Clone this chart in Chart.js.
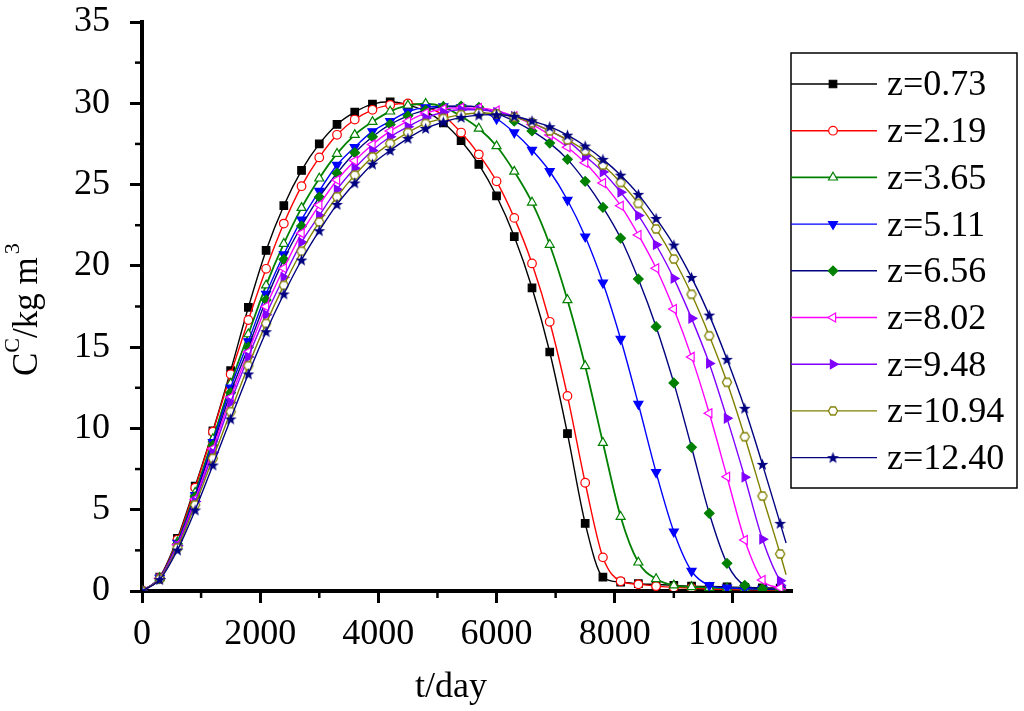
<!DOCTYPE html>
<html><head><meta charset="utf-8">
<script src="https://cdn.jsdelivr.net/npm/chart.js@4.4.0/dist/chart.umd.min.js"></script>
<style>html,body{margin:0;padding:0;background:#fff;}#wrap{width:1024px;height:711px;}</style>
</head><body><div id="wrap"><canvas id="c" width="1024" height="711"></canvas></div>
<script>
const days = [0,300,600,900,1200,1500,1800,2100,2400,2700,3000,3300,3600,3900,4200,4500,4800,5100,5400,5700,6000,6300,6600,6900,7200,7500,7800,8100,8400,8700,9000,9300,9600,9900,10200,10500,10800,10900];
const seriesLabels = ['z=0.73','z=2.19','z=3.65','z=5.11','z=6.56','z=8.02','z=9.48','z=10.94','z=12.40'];
const z073 = [0,0.85,3.24,6.45,9.85,13.55,17.45,20.95,23.7,25.87,27.5,28.7,29.46,29.95,30.09,29.9,29.5,28.8,27.7,26.24,24.3,21.8,18.65,14.7,9.68,4.16,0.85,0.55,0.45,0.4,0.35,0.3,0.28,0.25,0.22,0.2,0.18,0.18];
const z219 = [0,0.82,3.15,6.35,9.8,13.33,16.67,19.82,22.6,24.9,26.67,28.06,29.0,29.6,29.9,29.99,29.8,29.25,28.2,26.86,25.2,22.95,20.15,16.56,12.0,6.66,2.07,0.6,0.41,0.3,0.22,0.18,0.12,0.1,0.08,0.07,0.06,0.06];
const z365 = [0,0.8,3.0,6.05,9.35,12.75,15.8,18.8,21.36,23.57,25.38,26.9,28.06,28.86,29.5,29.87,29.97,29.78,29.2,28.45,27.37,25.8,23.9,21.3,17.9,13.84,9.12,4.57,1.76,0.74,0.35,0.25,0.2,0.17,0.15,0.12,0.1,0.1];
const z511 = [0,0.8,2.95,5.9,9.15,12.5,15.35,18.27,20.7,22.84,24.6,26.2,27.3,28.27,28.9,29.48,29.75,29.8,29.75,29.55,29.05,28.2,27.13,25.82,24.05,21.8,18.96,15.5,11.5,7.3,3.65,1.23,0.35,0.2,0.15,0.12,0.1,0.1];
const z656 = [0,0.78,2.9,5.8,8.95,12.2,15.0,17.9,20.4,22.45,24.23,25.7,26.96,27.94,28.7,29.23,29.58,29.8,29.83,29.75,29.4,28.9,28.3,27.55,26.55,25.2,23.6,21.7,19.19,16.26,12.8,8.84,4.78,1.7,0.35,0.15,0.1,0.08];
const z802 = [0,0.78,2.85,5.65,8.75,11.9,14.7,17.5,19.85,22.0,23.74,25.28,26.46,27.47,28.29,28.9,29.4,29.65,29.72,29.7,29.55,29.2,28.7,28.05,27.3,26.34,25.1,23.7,21.9,19.85,17.34,14.4,10.93,7.03,3.14,0.68,0.2,0.12];
const z948 = [0,0.76,2.78,5.5,8.5,11.6,14.4,17.0,19.3,21.45,23.1,24.7,26.0,27.1,27.94,28.56,29.1,29.45,29.6,29.6,29.45,29.2,28.8,28.3,27.7,26.75,25.77,24.53,23.1,21.3,19.23,16.77,14.0,10.62,7.0,3.18,0.63,0.3];
const z1094 = [0,0.74,2.65,5.3,8.16,11.03,13.86,16.46,18.8,20.9,22.7,24.25,25.58,26.7,27.53,28.2,28.76,29.07,29.3,29.4,29.35,29.15,28.8,28.3,27.75,27.08,26.2,25.13,23.84,22.27,20.42,18.25,15.7,12.84,9.49,5.84,2.28,1.0];
const z1240 = [0,0.7,2.52,4.98,7.75,10.58,13.35,15.95,18.27,20.36,22.16,23.78,25.1,26.26,27.1,27.84,28.45,28.85,29.13,29.27,29.3,29.2,28.92,28.56,28.04,27.37,26.55,25.58,24.4,22.92,21.28,19.29,16.97,14.25,11.24,7.79,4.16,2.95];
const xTickLabels = [0,2000,4000,6000,8000,10000];
const yTickLabels = [0,5,10,15,20,25,30,35];

const FONT = "'Liberation Serif','Times New Roman',serif";
const isMajorX = v => xTickLabels.some(t => Math.abs(t - v) < 1e-6);
const isMajorY = v => yTickLabels.some(t => Math.abs(t - v) < 1e-6);

function makeStar(color){
  const c=document.createElement('canvas'); c.width=13; c.height=13;
  const g=c.getContext('2d'); g.fillStyle=color; g.beginPath();
  for(let i=0;i<10;i++){const r=i%2?2.6:6.2; const a=-Math.PI/2+i*Math.PI/5; const px=6.5+r*Math.cos(a), py=7+r*Math.sin(a); i?g.lineTo(px,py):g.moveTo(px,py);}
  g.closePath(); g.fill(); return c;
}
function makeHex(color){
  const c=document.createElement('canvas'); c.width=12; c.height=12;
  const g=c.getContext('2d'); g.fillStyle='#fff'; g.strokeStyle=color; g.lineWidth=1.3; g.beginPath();
  for(let i=0;i<6;i++){const a=i*Math.PI/3; const px=6+4.6*Math.cos(a), py=6+4.6*Math.sin(a); i?g.lineTo(px,py):g.moveTo(px,py);}
  g.closePath(); g.fill(); g.stroke(); return c;
}

const styles = [
  {line:'#000000', fill:'#000000', border:'#000000', ps:'rect', rot:0, r:5.3},
  {line:'#FF0000', fill:'#FFFFFF', border:'#FF0000', ps:'circle', rot:0, r:4.3},
  {line:'#008000', fill:'#FFFFFF', border:'#008000', ps:'triangle', rot:0, r:5.2},
  {line:'#0000FF', fill:'#0000FF', border:'#0000FF', ps:'triangle', rot:180, r:5.2},
  {line:'#000080', fill:'#008000', border:'#008000', ps:'rectRot', rot:0, r:4.8},
  {line:'#FF00FF', fill:'#FFFFFF', border:'#FF00FF', ps:'triangle', rot:270, r:5.2},
  {line:'#8000FF', fill:'#8000FF', border:'#8000FF', ps:'triangle', rot:90, r:5.2},
  {line:'#808000', fill:'#FFFFFF', border:'#808000', ps:makeHex('#808000'), rot:0, r:5},
  {line:'#000080', fill:'#000080', border:'#000080', ps:makeStar('#000080'), rot:0, r:6}
];
const seriesValues = [z073,z219,z365,z511,z656,z802,z948,z1094,z1240];
const last = days.length-1;

const datasets = seriesValues.map((vals,i)=>({
  label: seriesLabels[i],
  data: days.map((d,k)=>({x:d, y:vals[k]})),
  borderColor: styles[i].line,
  borderWidth: i===2?1.8:1.4,
  backgroundColor: styles[i].fill,
  pointStyle: styles[i].ps,
  pointRotation: styles[i].rot,
  pointRadius: c => c.dataIndex===last ? 0 : styles[i].r,
  pointBackgroundColor: styles[i].fill,
  pointBorderColor: styles[i].border,
  pointBorderWidth: 1.2,
  cubicInterpolationMode: 'monotone',
  fill: false,
  order: -i
}));

const overlay = {
  id:'overlay',
  afterDraw(chart){
    const {ctx, scales:{x,y}, chartArea:a} = chart;
    ctx.save();
    ctx.strokeStyle='#000'; ctx.lineWidth=2.5;
    x.ticks.forEach(t=>{ if(!isMajorX(t.value) && t.value < x.max){const px=x.getPixelForValue(t.value); ctx.beginPath(); ctx.moveTo(px,a.bottom); ctx.lineTo(px,a.bottom+7); ctx.stroke();}});
    y.ticks.forEach(t=>{ if(!isMajorY(t.value)){const py=y.getPixelForValue(t.value); ctx.beginPath(); ctx.moveTo(a.left,py); ctx.lineTo(a.left-7,py); ctx.stroke();}});
    ctx.fillStyle='#000'; ctx.font='36px '+FONT; ctx.textAlign='center'; ctx.textBaseline='alphabetic';
    ctx.fillText('t/day', 451, 697);
    ctx.save(); ctx.translate(37, 376); ctx.rotate(-Math.PI/2); ctx.textAlign='left';
    let cx=0;
    const part=(txt,size,dy)=>{ctx.font=size+'px '+FONT; ctx.fillText(txt,cx,dy); cx+=ctx.measureText(txt).width;};
    part('C',35,0); part('C',22,-18); part('/kg m',35,0); cx+=3; part('3',22,-18);
    ctx.restore();
    const L={x0:791,x1:1017,y0:53,y1:488};
    ctx.lineWidth=1.5; ctx.strokeStyle='#000'; ctx.strokeRect(L.x0,L.y0,L.x1-L.x0,L.y1-L.y0);
    const drawPoint = (Chart.helpers && Chart.helpers.drawPoint);
    chart.data.datasets.forEach((ds,i)=>{
      const yy = 84 + i*46.7;
      ctx.strokeStyle=ds.borderColor; ctx.lineWidth=ds.borderWidth;
      ctx.beginPath(); ctx.moveTo(L.x0,yy); ctx.lineTo(877,yy); ctx.stroke();
      ctx.fillStyle=styles[i].fill; ctx.strokeStyle=styles[i].border; ctx.lineWidth=1.2;
      if(drawPoint) drawPoint(ctx,{pointStyle:styles[i].ps, rotation:styles[i].rot, radius:styles[i].r, borderWidth:1.2}, 833, yy);
      ctx.fillStyle='#000'; ctx.font='36px '+FONT; ctx.textAlign='left'; ctx.textBaseline='middle';
      ctx.fillText(ds.label, 887, yy+2);
    });
    ctx.restore();
  }
};

Chart.defaults.font.family = FONT;
Chart.defaults.color = '#000';

new Chart(document.getElementById('c'), {
  type:'line',
  data:{datasets},
  options:{
    responsive:false, animation:false,
    layout:{padding:{top:0,right:232,left:0,bottom:0}},
    plugins:{legend:{display:false}, tooltip:{enabled:false}},
    scales:{
      x:{type:'linear', min:0, max:11000,
        border:{display:true,width:4,color:'#000'},
        grid:{drawOnChartArea:false, drawTicks:true, tickLength:12, tickWidth:3,
              tickColor: c => (c.tick && isMajorX(c.tick.value)) ? '#000' : 'rgba(0,0,0,0)'},
        ticks:{stepSize:1000, autoSkip:false, maxRotation:0, minRotation:0,
               padding:10, font:{size:36}, color:'#000',
               callback: v => isMajorX(v) ? String(Math.round(v)) : ''},
        afterFit: s => { s.height = 120; s.paddingLeft = 0; s.paddingRight = 0; }
      },
      y:{type:'linear', min:0, max:35,
        border:{display:true,width:4,color:'#000'},
        grid:{drawOnChartArea:false, drawTicks:true, tickLength:12, tickWidth:3,
              tickColor: c => (c.tick && isMajorY(c.tick.value)) ? '#000' : 'rgba(0,0,0,0)'},
        ticks:{stepSize:2.5, autoSkip:false, padding:20, font:{size:36}, color:'#000',
               callback: v => isMajorY(v) ? String(Math.round(v)) : ''},
        afterFit: s => { s.width = 142; s.paddingTop = 22; s.paddingBottom = 0; }
      }
    }
  },
  plugins:[overlay]
});
</script></body></html>
